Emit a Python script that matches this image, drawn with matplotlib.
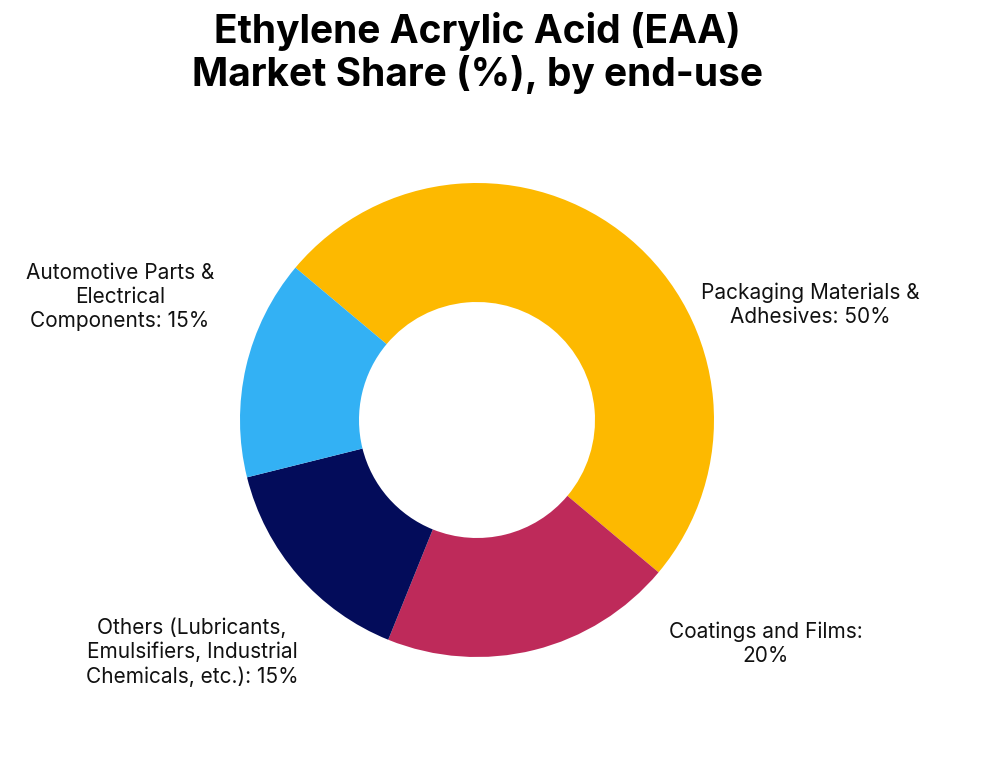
import matplotlib.pyplot as plt

plt.rcParams['font.family'] = ['Inter', 'DejaVu Sans']

categories = ['Packaging Materials &\nAdhesives: 50%',
              'Coatings and Films:\n20%',
              'Others (Lubricants,\nEmulsifiers, Industrial\nChemicals, etc.): 15%',
              'Automotive Parts &\nElectrical\nComponents: 15%']
shares = [50, 20, 15, 15]
colors = ['#FDB900', '#BE2A5A', '#030C5A', '#33B1F4']
# label centres in pixels (x, y from top)
label_pos = [(810, 305), (766, 644), (192, 652), (120, 297)]

W, H = 1000, 784
fig = plt.figure(figsize=(10, 7.84), dpi=100)
ax = fig.add_axes([0, 0, 1, 1])

ax.pie(shares, colors=colors, startangle=140, counterclock=False,
       center=(477, H - 420), radius=237, frame=True,
       wedgeprops=dict(width=119, linewidth=0))
ax.set_xlim(0, W)
ax.set_ylim(0, H)
ax.set_aspect('equal')
ax.axis('off')

for lab, (x, y) in zip(categories, label_pos):
    ax.text(x, H - y, lab, ha='center', va='center', fontsize=15,
            color='#111111', linespacing=1.25)

ax.text(477, H - 53, 'Ethylene Acrylic Acid (EAA)\nMarket Share (%), by end-use',
        ha='center', va='center', fontsize=28, fontweight='bold',
        color='black', linespacing=1.15)

fig.savefig('out.png', dpi=100, facecolor='white')
